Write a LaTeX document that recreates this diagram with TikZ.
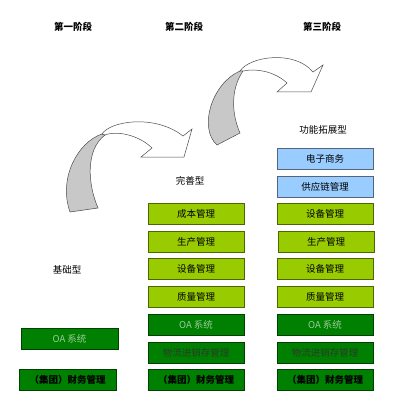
\documentclass[tikz,border=0pt]{standalone}
\usepackage{fontspec}
\setmainfont{Noto Sans CJK SC}
\definecolor{lgreen}{HTML}{99CC00}
\definecolor{lgreenb}{HTML}{4C6600}
\definecolor{dgreen}{HTML}{008000}
\definecolor{dgreenb}{HTML}{004000}
\definecolor{lblue}{HTML}{99CCFF}
\definecolor{lblueb}{HTML}{56647A}
\definecolor{oatext}{HTML}{9CCB9C}
\definecolor{wltext}{HTML}{2A3A2A}
\definecolor{arrgray}{HTML}{C8C8C8}
\begin{document}
\begin{tikzpicture}[x=1pt,y=-1pt,
  lbl/.style={font=\fontsize{9.5}{11}\selectfont},
  hdr/.style={font=\fontsize{9.5}{11}\selectfont\bfseries},
  box/.style={minimum width=96pt,minimum height=21pt,inner sep=0pt,line width=0.8pt,
     font=\fontsize{9.5}{11}\selectfont,
     append after command={[draw=black!45,line width=0.8pt]
       (\tikzlastnode.south west)++(1.5pt,0.9pt) -- ++(94pt,0)}},
  gbox/.style={box,fill=lgreen,draw=lgreenb},
  bbox/.style={box,fill=lblue,draw=lblueb},
  dbox/.style={box,fill=dgreen,draw=dgreenb},
  arrline/.style={draw=black!70,line width=0.5pt,line join=miter},
]
\useasboundingbox (0,0) rectangle (411,406);

% headers
\node[hdr] (h1) at (73,27) {第一阶段};
\node[hdr] (h2) at (184,27) {第二阶段};
\node[hdr] (h3) at (322,27) {第三阶段};

% type labels
\node[lbl] (t3) at (323,130) {功能拓展型};
\node[lbl] (t2) at (190,181) {完善型};
\node[lbl] (t1) at (67,270) {基础型};

% arrow 1
\path[arrline,fill=arrgray] (102,134) .. controls (78,142) and (58,178) .. (70,212)
  -- (98,208) .. controls (88,185) and (85,150) .. (105,135) -- cycle;
\path[arrline,fill=white] (102,134) .. controls (110,121) and (155,114) .. (183,136)
  -- (192,129) -- (184,157) -- (141,157) -- (152,148)
  .. controls (140,136) and (118,130) .. (105,135) -- cycle;

% arrow 2
\path[arrline,fill=arrgray] (240,71) .. controls (212,83) and (198,128) .. (217,145)
  -- (240,133) .. controls (232,115) and (230,90) .. (243,71) -- cycle;
\path[arrline,fill=white] (240,71) .. controls (250,56) and (295,50) .. (313,72)
  -- (323,65) -- (311,92) -- (277,92) -- (287,83)
  .. controls (275,72) and (258,68) .. (243,71) -- cycle;

% column 3
\node[bbox] (c3a) at (325,158.5) {电子商务};
\node[bbox] (c3b) at (325,186.5) {供应链管理};
\node[gbox] (c3c) at (325,214) {设备管理};
\node[gbox] (c3d) at (326,241.5) {生产管理};
\node[gbox] (c3e) at (325,269) {设备管理};
\node[gbox] (c3f) at (325,297) {质量管理};
\node[dbox,text=oatext] (c3g) at (325,324.5) {OA 系统};
\node[dbox,text=wltext] (c3h) at (325,352.5) {物流进销存管理};
\node[dbox,font=\fontsize{9.5}{11}\selectfont\bfseries] (c3i) at (325,380) {（集团）财务管理};

% column 2
\node[gbox] (c2a) at (196,214) {成本管理};
\node[gbox] (c2b) at (196,241.5) {生产管理};
\node[gbox] (c2c) at (196,269) {设备管理};
\node[gbox] (c2d) at (196,297) {质量管理};
\node[dbox,text=oatext] (c2e) at (196,324.5) {OA 系统};
\node[dbox,text=wltext] (c2f) at (196,352.5) {物流进销存管理};
\node[dbox,font=\fontsize{9.5}{11}\selectfont\bfseries] (c2g) at (196,380) {（集团）财务管理};

% column 1
\node[dbox,text=oatext,minimum width=97pt] (c1a) at (69.5,338.5) {OA 系统};
\node[dbox,font=\fontsize{9.5}{11}\selectfont\bfseries,minimum width=97pt] (c1b) at (67.5,380) {（集团）财务管理};
\end{tikzpicture}
\end{document}
